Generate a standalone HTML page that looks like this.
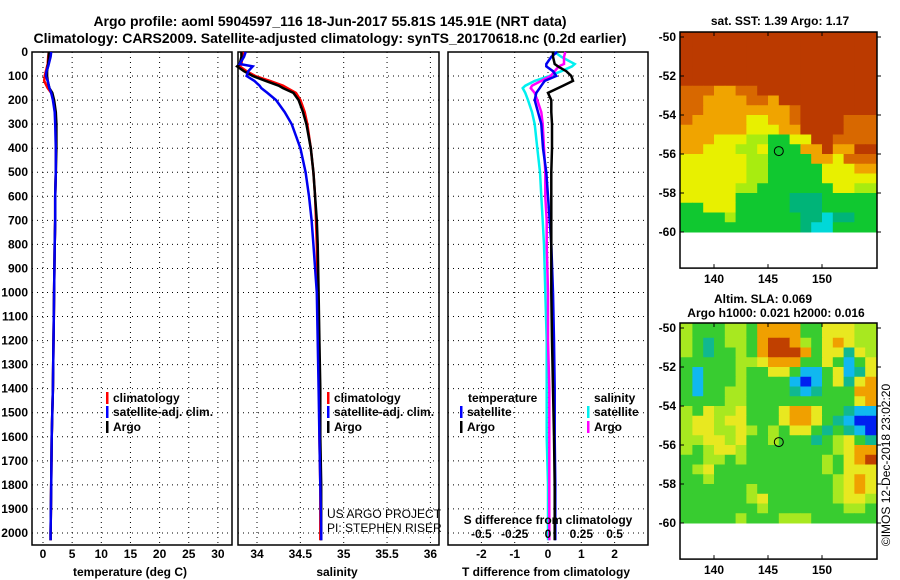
<!DOCTYPE html>
<html><head><meta charset="utf-8"><style>
html,body{margin:0;padding:0;background:#fff;}
svg{display:block;font-family:"Liberation Sans",sans-serif;font-weight:bold;}
</style></head><body>
<svg id="c" width="900" height="580" viewBox="0 0 900 580" xmlns="http://www.w3.org/2000/svg">
<text x="330" y="26" font-size="14" text-anchor="middle">Argo profile: aoml 5904597_116 18-Jun-2017 55.81S 145.91E (NRT data)</text>
<text x="330" y="43" font-size="14" text-anchor="middle">Climatology: CARS2009. Satellite-adjusted climatology: synTS_20170618.nc (0.2d earlier)</text>
<g id="g"></g>
</svg>
<script>
// ---- data ----
const depthTicks=[0,100,200,300,400,500,600,700,800,900,1000,1100,1200,1300,1400,1500,1600,1700,1800,1900,2000];
const tempTicks=[0,5,10,15,20,25,30];
const salTicks=[34,34.5,35,35.5,36];
const salTickLabels=["34","34.5","35","35.5","36"];
const tdTicks=[-2,-1,0,1,2];
const sdTicks=[-0.5,-0.25,0,0.25,0.5];
const sdTickLabels=["-0.5","-0.25","0","0.25","0.5"];
const depths=[0,20,50,60,80,100,120,140,150,170,200,250,300,400,500,600,700,800,1000,1200,1400,1600,1800,2000,2030];
const argoT=[1.0,1.0,0.9,0.8,0.7,0.7,0.8,1.0,1.1,1.6,1.9,2.2,2.3,2.3,2.2,2.1,2.1,2.0,1.9,1.8,1.7,1.5,1.4,1.3,1.3];
const climT=[1.0,0.9,0.8,0.7,0.5,0.3,0.2,0.6,0.8,1.4,1.8,2.1,2.2,2.2,2.2,2.1,2.1,2.0,1.9,1.8,1.7,1.5,1.4,1.3,1.3];
const satT=[1.4,1.3,1.0,0.9,0.6,0.5,0.8,1.0,1.1,1.4,1.7,2.0,2.1,2.2,2.2,2.1,2.1,2.0,1.9,1.8,1.7,1.5,1.4,1.3,1.3];
const argoS=[33.82,33.82,33.80,33.77,33.85,33.95,34.10,34.25,34.30,34.42,34.48,34.53,34.57,34.62,34.65,34.67,34.69,34.70,34.71,34.72,34.73,34.73,34.74,34.74,34.74];
const climS=[33.84,33.83,33.82,33.80,33.88,33.98,34.15,34.30,34.35,34.45,34.50,34.55,34.58,34.62,34.65,34.67,34.68,34.69,34.70,34.71,34.72,34.72,34.73,34.73,34.73];
const satS=[33.87,33.85,33.80,33.95,33.90,33.88,33.97,34.03,34.05,34.12,34.22,34.32,34.40,34.50,34.56,34.60,34.63,34.65,34.69,34.70,34.71,34.72,34.73,34.74,34.74];
const argoTd=[0.15,0.15,0.2,0.3,0.55,0.7,0.75,0.45,0.3,0,0.1,0.1,0.12,0.12,0.1,0.1,0.1,0.1,0.1,0.12,0.15,0.18,0.2,0.2,0.2];
const satTd=[0.27,0.1,-0.05,-0.05,0.15,0.25,-0.1,-0.2,-0.25,-0.35,-0.4,-0.3,-0.2,-0.15,-0.05,0,0.05,0.1,0.15,0.18,0.2,0.2,0.22,0.22,0.22];
const argoSd=[0.13,0.12,0.12,0.08,0.05,0.02,-0.05,-0.12,-0.13,-0.1,-0.08,-0.05,-0.04,-0.03,-0.02,-0.02,-0.01,-0.01,0,0,0.01,0.01,0.01,0.01,0.01];
const satSd=[0.05,0.1,0.2,0.18,0.1,0.01,-0.1,-0.17,-0.19,-0.17,-0.15,-0.12,-0.1,-0.08,-0.06,-0.05,-0.04,-0.03,-0.02,-0.01,-0.01,-0.01,0,0,0];
const mapLonTicks=[140,145,150];
const mapLatTicks=[-50,-52,-54,-56,-58,-60];
const argoLon=146,argoLat=-55.85;
const sstGrid=["BBBBBBBBBBBBBBBBBB","BBBBBBBBBBBBBBBBBB","BBBBBBBBBBBBBBBBBB","BBBBBBBBBBBBBBBBBB","BBBBBBBBBBBBBBBBBB",
"OOOooOOBBBBBBBBBBB","OOooooOOoBBBBBBBBB","OOooooooooOBBBBBBB","OoooooYYooOBBBBOOO","ooooooYYYooBBBBOOO",
"oooYYYggGGYYBBOOOO","ooYYYggYGGGooBooBB","YYYYYYggGGGGooYOOO","YYYYYYggGGGGGYYYoo","YYYYYYggGGGGGYYYYY",
"YYYYYggGGGGGGGYYgg","YYYYYGGGGGTTTGGGGG","GGYYYGGGGGTTTGGGGG","GGGGgGGGGGGTTCTTGG","GGGGGGGGGGGTCCGGGG"];
const slaGrid=["LGGGLLGOOOOGGYYYLL","LGTGLLGORROLGYOYLL","LGTGGLGORRROGYYTYL","GGGGGLLYOOOGGYGCGY","GCGGGLGGYYGCCGYCTY",
"GCGGGLGGGGCBCGYTYO","GCGGLLGGGGTCTGGGOO","GGGGLLGGGGGGGGGGYO","LGYLLYGGGYOOYGGTCC","LYYLYYGGGYOOYGTCBB",
"LYYLLYLGLGYYGTGTCB","LLYYLYGGLGGGTGLYGT","LGLYYLGGGGGGGGLYOO","GGLLGLGGGGGGGLGYOR","GLYGGGGGGGGGGLGYYY",
"GGLGGGGGGGGGGGLYOY","GGGGGGLGGGGGGGLYOY","GGGGGGLYGGGGGGLYYL","GGGGGGGLGGGGGGGLLG","GGGGGLGGGLLLGGGGGG"];
const sstColors={B:"#bb3a00",O:"#d86800",o:"#f0a400",Y:"#e8f000",g:"#a8ec10",G:"#10c830",T:"#00b478",C:"#00d8d8"};
const slaColors={G:"#38cc30",L:"#a8e820",Y:"#e8e820",O:"#f0a000",R:"#c04000",T:"#10b890",C:"#10b8f0",B:"#0020f0"};

// ---- helpers ----
const NS="http://www.w3.org/2000/svg";
const G=document.getElementById('g');
function mk(tag,attrs,parent){const e=document.createElementNS(NS,tag);for(const k in attrs)e.setAttribute(k,attrs[k]);(parent||G).appendChild(e);return e;}
const PT=52,PB=545;
const yD=d=>PT+d*(PB-PT)/2050;
const P1={l:32,r:232,x:v=>43+v*5.83};
const P2={l:238,r:439,x:v=>257+(v-34)*86.7};
const P3={l:448,r:648,x:v=>548+v*33.3};
const xS3=v=>548+v*133.3;

function panel(P,name,ticks,labels,labelFn){
  const f=mk('rect',{x:P.l,y:PT,width:P.r-P.l,height:PB-PT,fill:'#fff',stroke:'#000','stroke-width':1.5});
  
  depthTicks.forEach(d=>{if(d===0)return;const l=mk('line',{x1:P.l,x2:P.r,y1:yD(d),y2:yD(d),stroke:'#000','stroke-dasharray':'1 4'});
    });
  ticks.forEach((t,i)=>{const x=P.x(t);const l=mk('line',{x1:x,x2:x,y1:PT,y2:PB,stroke:'#000','stroke-dasharray':'1 4'});
    
    const tx=mk('text',{x:x,y:558,'font-size':12,'text-anchor':'middle'});tx.textContent=labels[i];
    });
}
function line(P,xf,vals,color,name,w){
  const pts=depths.map((d,i)=>xf(vals[i]).toFixed(1)+','+yD(d).toFixed(1)).join(' ');
  const l=mk('polyline',{points:pts,fill:'none',stroke:color,'stroke-width':w||2.5,'stroke-linejoin':'miter'});
  
}
function legend(x,y,color,label,name){
  const r=mk('rect',{x:x,y:y-10,width:2.5,height:12,fill:color});
  
  const t=mk('text',{x:x+7,y:y,'font-size':12});t.textContent=label;
  
}
function txt(x,y,s,name,extra){const t=mk('text',Object.assign({x:x,y:y,'font-size':12},extra||{}));t.textContent=s;
  return t;}

// panel 1
panel(P1,'temperature-panel',tempTicks,tempTicks.map(String));
depthTicks.forEach(d=>{const t=mk('text',{x:28,y:yD(d)+4,'font-size':12,'text-anchor':'end'});t.textContent=d;
  });
line(P1,P1.x,climT,'#f00','temperature-climatology-line');
line(P1,P1.x,argoT,'#000','temperature-argo-line');
line(P1,P1.x,satT,'#0000f0','temperature-satellite-line');
legend(106,402,'#f00','climatology','temp-legend-climatology');
legend(106,416,'#00f','satellite-adj. clim.','temp-legend-satellite');
legend(106,431,'#000','Argo','temp-legend-argo');
txt(130,576,'temperature (deg C)','temperature-x-axis-title',{'text-anchor':'middle'});

// panel 2
panel(P2,'salinity-panel',salTicks,salTickLabels);
line(P2,P2.x,climS,'#f00','salinity-climatology-line');
line(P2,P2.x,argoS,'#000','salinity-argo-line');
line(P2,P2.x,satS,'#0000f0','salinity-satellite-line');
legend(327,402,'#f00','climatology','sal-legend-climatology');
legend(327,416,'#00f','satellite-adj. clim.','sal-legend-satellite');
legend(327,431,'#000','Argo','sal-legend-argo');
txt(327,518,'US ARGO PROJECT','credit-project',{'font-weight':'normal'});
txt(327,532,'PI: STEPHEN RISER','credit-pi',{'font-weight':'normal'});
txt(337,576,'salinity','salinity-x-axis-title',{'text-anchor':'middle'});

// panel 3
panel(P3,'difference-panel',tdTicks,tdTicks.map(String));
line(P3,xS3,satSd,'#00f0f0','salinity-diff-satellite-line');
line(P3,xS3,argoSd,'#ff00ff','salinity-diff-argo-line');
line(P3,P3.x,satTd,'#0000f0','temperature-diff-satellite-line');
line(P3,P3.x,argoTd,'#000','temperature-diff-argo-line');
txt(468,402,'temperature','diff-legend-temperature-heading');
legend(460,416,'#00f','satellite','diff-legend-temp-satellite');
legend(460,431,'#000','Argo','diff-legend-temp-argo');
txt(594,402,'salinity','diff-legend-salinity-heading');
legend(587,416,'#00f0f0','satellite','diff-legend-sal-satellite');
legend(587,431,'#f0f','Argo','diff-legend-sal-argo');
txt(548,524,'S difference from climatology','s-diff-axis-title',{'text-anchor':'middle'});
sdTicks.forEach((s,i)=>{txt(xS3(s),538,sdTickLabels[i],'s-diff-tick-label',{'text-anchor':'middle'});});
txt(546,576,'T difference from climatology','t-diff-axis-title',{'text-anchor':'middle'});

// maps
function map(top,grid,colors,name){
  const L=680,R=877,lonX=v=>714+(v-140)*10.8,latY=v=>top+5+(-50-v)*19.5,B=latY(-61.8)+1;
  const g=mk('g',{});
  grid.forEach((row,ri)=>{for(let ci=0;ci<row.length;ci++){
    const lon=137+ci,lat=-50-ri*0.5;const x0=ci===0?L:lonX(lon),x1=ci===row.length-1?R:lonX(lon+1);
    const y0=ri===0?top:latY(lat);
    const c=mk('rect',{x:x0,y:y0,width:x1-x0+0.5,height:latY(lat-0.5)-y0+0.5,fill:colors[row[ci]]},g);
    }});
  const f=mk('rect',{x:L,y:top,width:R-L,height:B-top,fill:'none',stroke:'#000','stroke-width':1.5});
  
  mapLonTicks.forEach(v=>{const x=lonX(v);mk('line',{x1:x,x2:x,y1:top,y2:top+4,stroke:'#000'});mk('line',{x1:x,x2:x,y1:B,y2:B-4,stroke:'#000'});
    txt(x,B+15,String(v),name+'-lon-tick-label',{'text-anchor':'middle'});});
  mapLatTicks.forEach(v=>{const y=latY(v);mk('line',{x1:L,x2:L+4,y1:y,y2:y,stroke:'#000'});mk('line',{x1:R,x2:R+4,y1:y,y2:y,stroke:'#000'});
    txt(676,y+4,String(v),name+'-lat-tick-label',{'text-anchor':'end'});});
  const m=mk('circle',{cx:lonX(argoLon),cy:latY(argoLat),r:4.5,fill:'none',stroke:'#000','stroke-width':1});
  
}
map(32,sstGrid,sstColors,'sst-map');
map(323,slaGrid,slaColors,'sla-map');
txt(780,25,'sat. SST: 1.39 Argo: 1.17','sst-map-title',{'text-anchor':'middle'});
txt(763,303,'Altim. SLA: 0.069','sla-map-title-1',{'text-anchor':'middle'});
txt(776,317,'Argo h1000: 0.021 h2000: 0.016','sla-map-title-2',{'text-anchor':'middle'});
txt(0,0,'©IMOS 12-Dec-2018 23:02:20','timestamp',{'font-weight':'normal','text-anchor':'middle',transform:'translate(890,465) rotate(-90)'});
</script>
</body></html>
